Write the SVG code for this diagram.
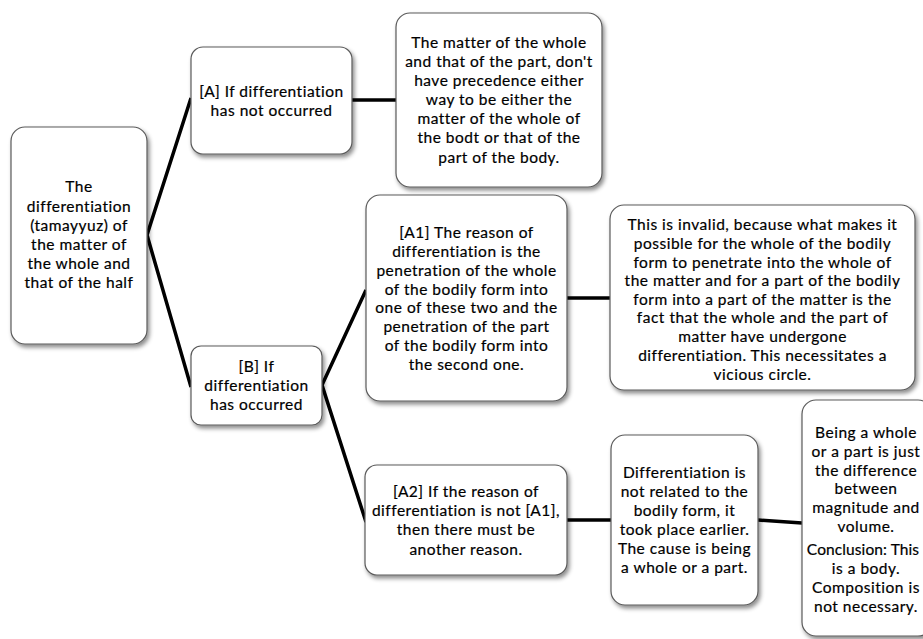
<svg xmlns="http://www.w3.org/2000/svg" width="923" height="639" viewBox="0 0 923 639">
<style>
  .box { fill: #ffffff; stroke: #5a5a5a; stroke-width: 1.2; filter: url(#sh); }
  .t { font-family: Lato, "Liberation Sans", Arial, sans-serif; font-size: 15.5px; letter-spacing: 0.5px; fill: #000000; stroke: #000000; stroke-width: 0.2; text-anchor: middle; }
  .c { fill: none; stroke: #000000; stroke-width: 3.5; stroke-linecap: butt; }
</style>
<defs>
  <filter id="sh" x="-10%" y="-10%" width="130%" height="130%">
    <feDropShadow dx="2" dy="3" stdDeviation="2" flood-color="#000000" flood-opacity="0.45"/>
  </filter>
</defs>
<rect width="923" height="639" fill="#ffffff"/>
<g id="connectors">
  <polyline class="c" points="191,98 147,235 191,387"/>
  <line class="c" x1="352" y1="100" x2="396" y2="100"/>
  <polyline class="c" points="366,290 322,385 366,522"/>
  <line class="c" x1="567" y1="298" x2="610" y2="298"/>
  <line class="c" x1="567" y1="520" x2="611" y2="520"/>
  <line class="c" x1="758" y1="520" x2="802" y2="523"/>
</g>
<g id="root">
  <rect class="box" x="11" y="127" width="136" height="217" rx="14"/>
  <text class="t"><tspan x="79" y="192">The</tspan><tspan x="79" y="212">differentiation</tspan><tspan x="79" y="231">(tamayyuz) of</tspan><tspan x="79" y="250">the matter of</tspan><tspan x="79" y="269">the whole and</tspan><tspan x="79" y="288">that of the half</tspan></text>
</g>
<g id="nodeA">
  <rect class="box" x="191" y="47" width="161" height="107" rx="12"/>
  <text class="t"><tspan x="271.5" y="97">[A] If differentiation</tspan><tspan x="271.5" y="116">has not occurred</tspan></text>
</g>
<g id="nodeA-result">
  <rect class="box" x="396" y="13" width="206" height="174" rx="14"/>
  <text class="t"><tspan x="499" y="48">The matter of the whole</tspan><tspan x="499" y="67">and that of the part, don't</tspan><tspan x="499" y="86">have precedence either</tspan><tspan x="499" y="105">way to be either the</tspan><tspan x="499" y="124">matter of the whole of</tspan><tspan x="499" y="143">the bodt or that of the</tspan><tspan x="499" y="163">part of the body.</tspan></text>
</g>
<g id="nodeB">
  <rect class="box" x="191" y="346" width="131" height="79" rx="10"/>
  <text class="t"><tspan x="256.5" y="372">[B] If</tspan><tspan x="256.5" y="391">differentiation</tspan><tspan x="256.5" y="410">has occurred</tspan></text>
</g>
<g id="nodeA1">
  <rect class="box" x="366" y="195" width="201" height="206" rx="14"/>
  <text class="t"><tspan x="466.5" y="238">[A1] The reason of</tspan><tspan x="466.5" y="257">differentiation is the</tspan><tspan x="466.5" y="276">penetration of the whole</tspan><tspan x="466.5" y="295">of the bodily form into</tspan><tspan x="466.5" y="313">one of these two and the</tspan><tspan x="466.5" y="332">penetration of the part</tspan><tspan x="466.5" y="351">of the bodily form into</tspan><tspan x="466.5" y="370">the second one.</tspan></text>
</g>
<g id="nodeA1-result">
  <rect class="box" x="610" y="205" width="305" height="185" rx="14"/>
  <text class="t"><tspan x="762.5" y="230">This is invalid, because what makes it</tspan><tspan x="762.5" y="249">possible for the whole of the bodily</tspan><tspan x="762.5" y="268">form to penetrate into the whole of</tspan><tspan x="762.5" y="286">the matter and for a part of the bodily</tspan><tspan x="762.5" y="305">form into a part of the matter is the</tspan><tspan x="762.5" y="323">fact that the whole and the part of</tspan><tspan x="762.5" y="342">matter have undergone</tspan><tspan x="762.5" y="361">differentiation. This necessitates a</tspan><tspan x="762.5" y="380">vicious circle.</tspan></text>
</g>
<g id="nodeA2">
  <rect class="box" x="365" y="465" width="202" height="110" rx="12"/>
  <text class="t"><tspan x="466" y="497">[A2] If the reason of</tspan><tspan x="466" y="516">differentiation is not [A1],</tspan><tspan x="466" y="535">then there must be</tspan><tspan x="466" y="555">another reason.</tspan></text>
</g>
<g id="nodeA2-result">
  <rect class="box" x="611" y="435" width="147" height="170" rx="14"/>
  <text class="t"><tspan x="684.5" y="478">Differentiation is</tspan><tspan x="684.5" y="497">not related to the</tspan><tspan x="684.5" y="516">bodily form, it</tspan><tspan x="684.5" y="535">took place earlier.</tspan><tspan x="684.5" y="554">The cause is being</tspan><tspan x="684.5" y="573">a whole or a part.</tspan></text>
</g>
<g id="conclusion">
  <rect class="box" x="802" y="400" width="130" height="236" rx="14"/>
  <text class="t"><tspan x="866" y="438">Being a whole</tspan><tspan x="866" y="457">or a part is just</tspan><tspan x="866" y="476">the difference</tspan><tspan x="866" y="494">between</tspan><tspan x="866" y="513">magnitude and</tspan><tspan x="866" y="532">volume.</tspan><tspan x="863" y="555" letter-spacing="0.1">Conclusion: This</tspan><tspan x="866" y="574">is a body.</tspan><tspan x="866" y="593">Composition is</tspan><tspan x="866" y="612">not necessary.</tspan></text>
</g>
</svg>
